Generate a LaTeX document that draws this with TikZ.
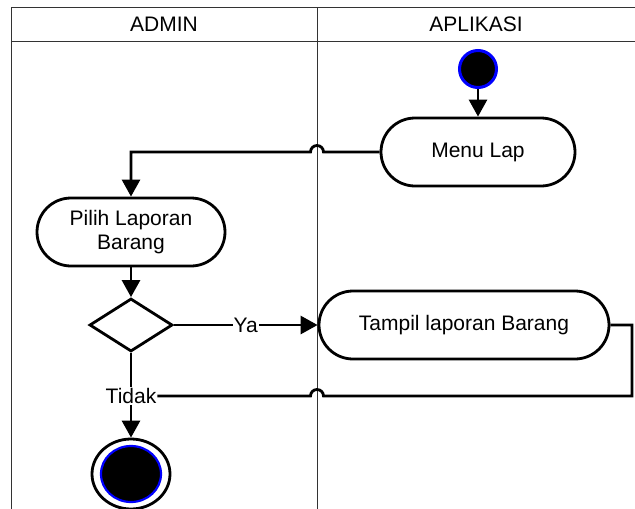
\documentclass[tikz,border=0pt]{standalone}
\usepackage{fontspec}
\setmainfont{Liberation Sans}
\usetikzlibrary{arrows.meta,shapes.geometric,calc}
\begin{document}
\begin{tikzpicture}[x=1pt,y=-1pt,
  lane/.style={draw=black!80,line width=1pt},
  act/.style={draw,line width=2.8pt,rounded corners=34pt,fill=white,align=center,font=\fontsize{21}{24}\selectfont},
  flow/.style={line width=2.8pt},
  arr/.style={flow,-{Triangle[width=18pt,length=17pt]}},
  lbl/.style={font=\fontsize{21}{24}\selectfont,inner sep=1pt},
  hdr/.style={font=\fontsize{21}{24}\selectfont}
]
\useasboundingbox (0,0) rectangle (635,509);
% swimlanes
\coordinate (tl) at (11,7);
\coordinate (tr) at (640,7);
\coordinate (hl) at (11,41);
\coordinate (hr) at (640,41);
\coordinate (div) at (317,7);
\draw[lane] (tr) -- (tl) -- (11,515);
\draw[lane] (hl) -- (hr);
\draw[lane] (div) -- (317,515);
\node[hdr] (hadmin) at (164,24) {ADMIN};
\node[hdr] (happ) at (476,24) {APLIKASI};
% nodes
\node[circle,fill=black,draw=blue,line width=3pt,minimum size=37pt,inner sep=0] (start) at (478,69) {};
\node[act,minimum width=194pt,minimum height=68pt] (menu) at (478,152) {Menu Lap};
\node[act,minimum width=188pt,minimum height=68pt] (pilih) at (131,232) {Pilih Laporan\\Barang};
\node[diamond,draw,line width=2.8pt,minimum width=83pt,minimum height=53pt,inner sep=0,aspect=1.57] (dec) at (131,325) {};
\node[act,minimum width=290pt,minimum height=68pt] (tampil) at (464,325) {Tampil laporan Barang};
\node[lbl] (tidak) at (131,396) {Tidak};
\node[ellipse,draw,line width=2.8pt,fill=white,minimum width=78pt,minimum height=70pt,inner sep=0] (endo) at (131,474) {};
\node[ellipse,draw=blue,line width=2.2pt,fill=black,minimum width=60pt,minimum height=56pt,inner sep=0] (endi) at (131,474) {};
% connectors
\draw[arr] (start) -- (menu);
\draw[arr] (menu.west) -- ([xshift=6.5pt]menu.west -| div) arc[start angle=0,end angle=180,radius=6.5pt] -- (menu.west -| pilih) -- (pilih.north);
\draw[arr] (pilih) -- (dec);
\draw[arr] (dec.east) -- node[lbl,fill=white,pos=0.5] (ya) {Ya} (tampil.west);
\coordinate (rr) at (632,325);
\draw[flow] (tampil.east) -- (rr) -- (rr |- tidak) -- ([xshift=6.5pt]tidak -| div) arc[start angle=0,end angle=180,radius=6.5pt] -- (tidak.east);
\draw[flow] (dec.south) -- (tidak.north);
\draw[arr] (tidak.south) -- (endo.north);
\end{tikzpicture}
\end{document}
